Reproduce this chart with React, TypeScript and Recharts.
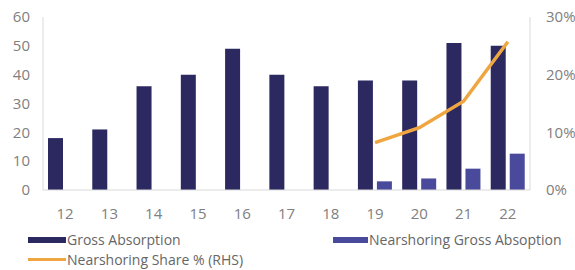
import { ComposedChart, Bar, Line, XAxis, YAxis } from "recharts";

const YEARS = ["12", "13", "14", "15", "16", "17", "18", "19", "20", "21", "22"];
const GROSS = [18, 21, 36, 40, 49, 40, 36, 38, 38, 51, 50];
const NEAR = [null, null, null, null, null, null, null, 3, 4, 7.4, 12.6];
const SHARE = [null, null, null, null, null, null, null, 8.2, 10.8, 15.4, 25.7];

const LEFT_TICKS = [0, 10, 20, 30, 40, 50, 60];
const RIGHT_TICKS = [0, 10, 20, 30];

const GROSS_COLOR = "#2B2960";
const NEAR_COLOR = "#4A4A9C";
const SHARE_COLOR = "#EFA640";
const AXIS_COLOR = "#D9D9D9";
const TICK_COLOR = "#808080";
const FONT = "'Open Sans', sans-serif";

const data = YEARS.map((y, i) => ({
  year: y,
  gross: GROSS[i],
  near: NEAR[i],
  share: SHARE[i],
}));

const tickStyle = { fill: TICK_COLOR, fontSize: 15, fontFamily: FONT };

export default function App() {
  return (
    <div style={{ position: "relative", width: 575, height: 270, background: "#fff", fontFamily: FONT }}>
      <style>{"body{margin:0}"}</style>
      <ComposedChart
        width={575}
        height={230}
        data={data}
        margin={{ top: 17, right: 0, left: 0, bottom: 15 }}
        barGap={4}
        barSize={15}
      >
        <XAxis
          dataKey="year"
          tickLine={false}
          axisLine={{ stroke: AXIS_COLOR }}
          tick={tickStyle}
          tickMargin={12}
          height={25}
        />
        <YAxis
          yAxisId="left"
          domain={[0, 60]}
          ticks={LEFT_TICKS}
          tickLine={false}
          axisLine={{ stroke: AXIS_COLOR }}
          tick={tickStyle}
          tickMargin={7}
          width={43}
        />
        <YAxis
          yAxisId="right"
          orientation="right"
          domain={[0, 30]}
          ticks={RIGHT_TICKS}
          tickFormatter={(v) => `${v}%`}
          tickLine={false}
          axisLine={{ stroke: AXIS_COLOR }}
          tick={tickStyle}
          tickMargin={10}
          width={45}
        />
        <Bar yAxisId="left" dataKey="gross" fill={GROSS_COLOR} isAnimationActive={false} />
        <Bar yAxisId="left" dataKey="near" fill={NEAR_COLOR} isAnimationActive={false} />
        <Line
          yAxisId="right"
          dataKey="share"
          stroke={SHARE_COLOR}
          strokeWidth={3.5}
          dot={false}
          type="linear"
          connectNulls={false}
          isAnimationActive={false}
        />
      </ComposedChart>

      <div style={{ position: "absolute", left: 28, top: 230, display: "flex", alignItems: "center", fontSize: 14, color: "#666" }}>
        <span style={{ width: 38, height: 6, background: GROSS_COLOR, display: "inline-block", marginRight: 1 }} />
        Gross Absorption
      </div>
      <div style={{ position: "absolute", left: 333, top: 230, display: "flex", alignItems: "center", fontSize: 14, color: "#666" }}>
        <span style={{ width: 35, height: 6, background: NEAR_COLOR, display: "inline-block", marginRight: 1 }} />
        Nearshoring Gross Absoption
      </div>
      <div style={{ position: "absolute", left: 28, top: 250, display: "flex", alignItems: "center", fontSize: 14, color: "#666" }}>
        <span style={{ width: 38, height: 3, background: SHARE_COLOR, display: "inline-block", marginRight: 1 }} />
        Nearshoring Share % (RHS)
      </div>
    </div>
  );
}
